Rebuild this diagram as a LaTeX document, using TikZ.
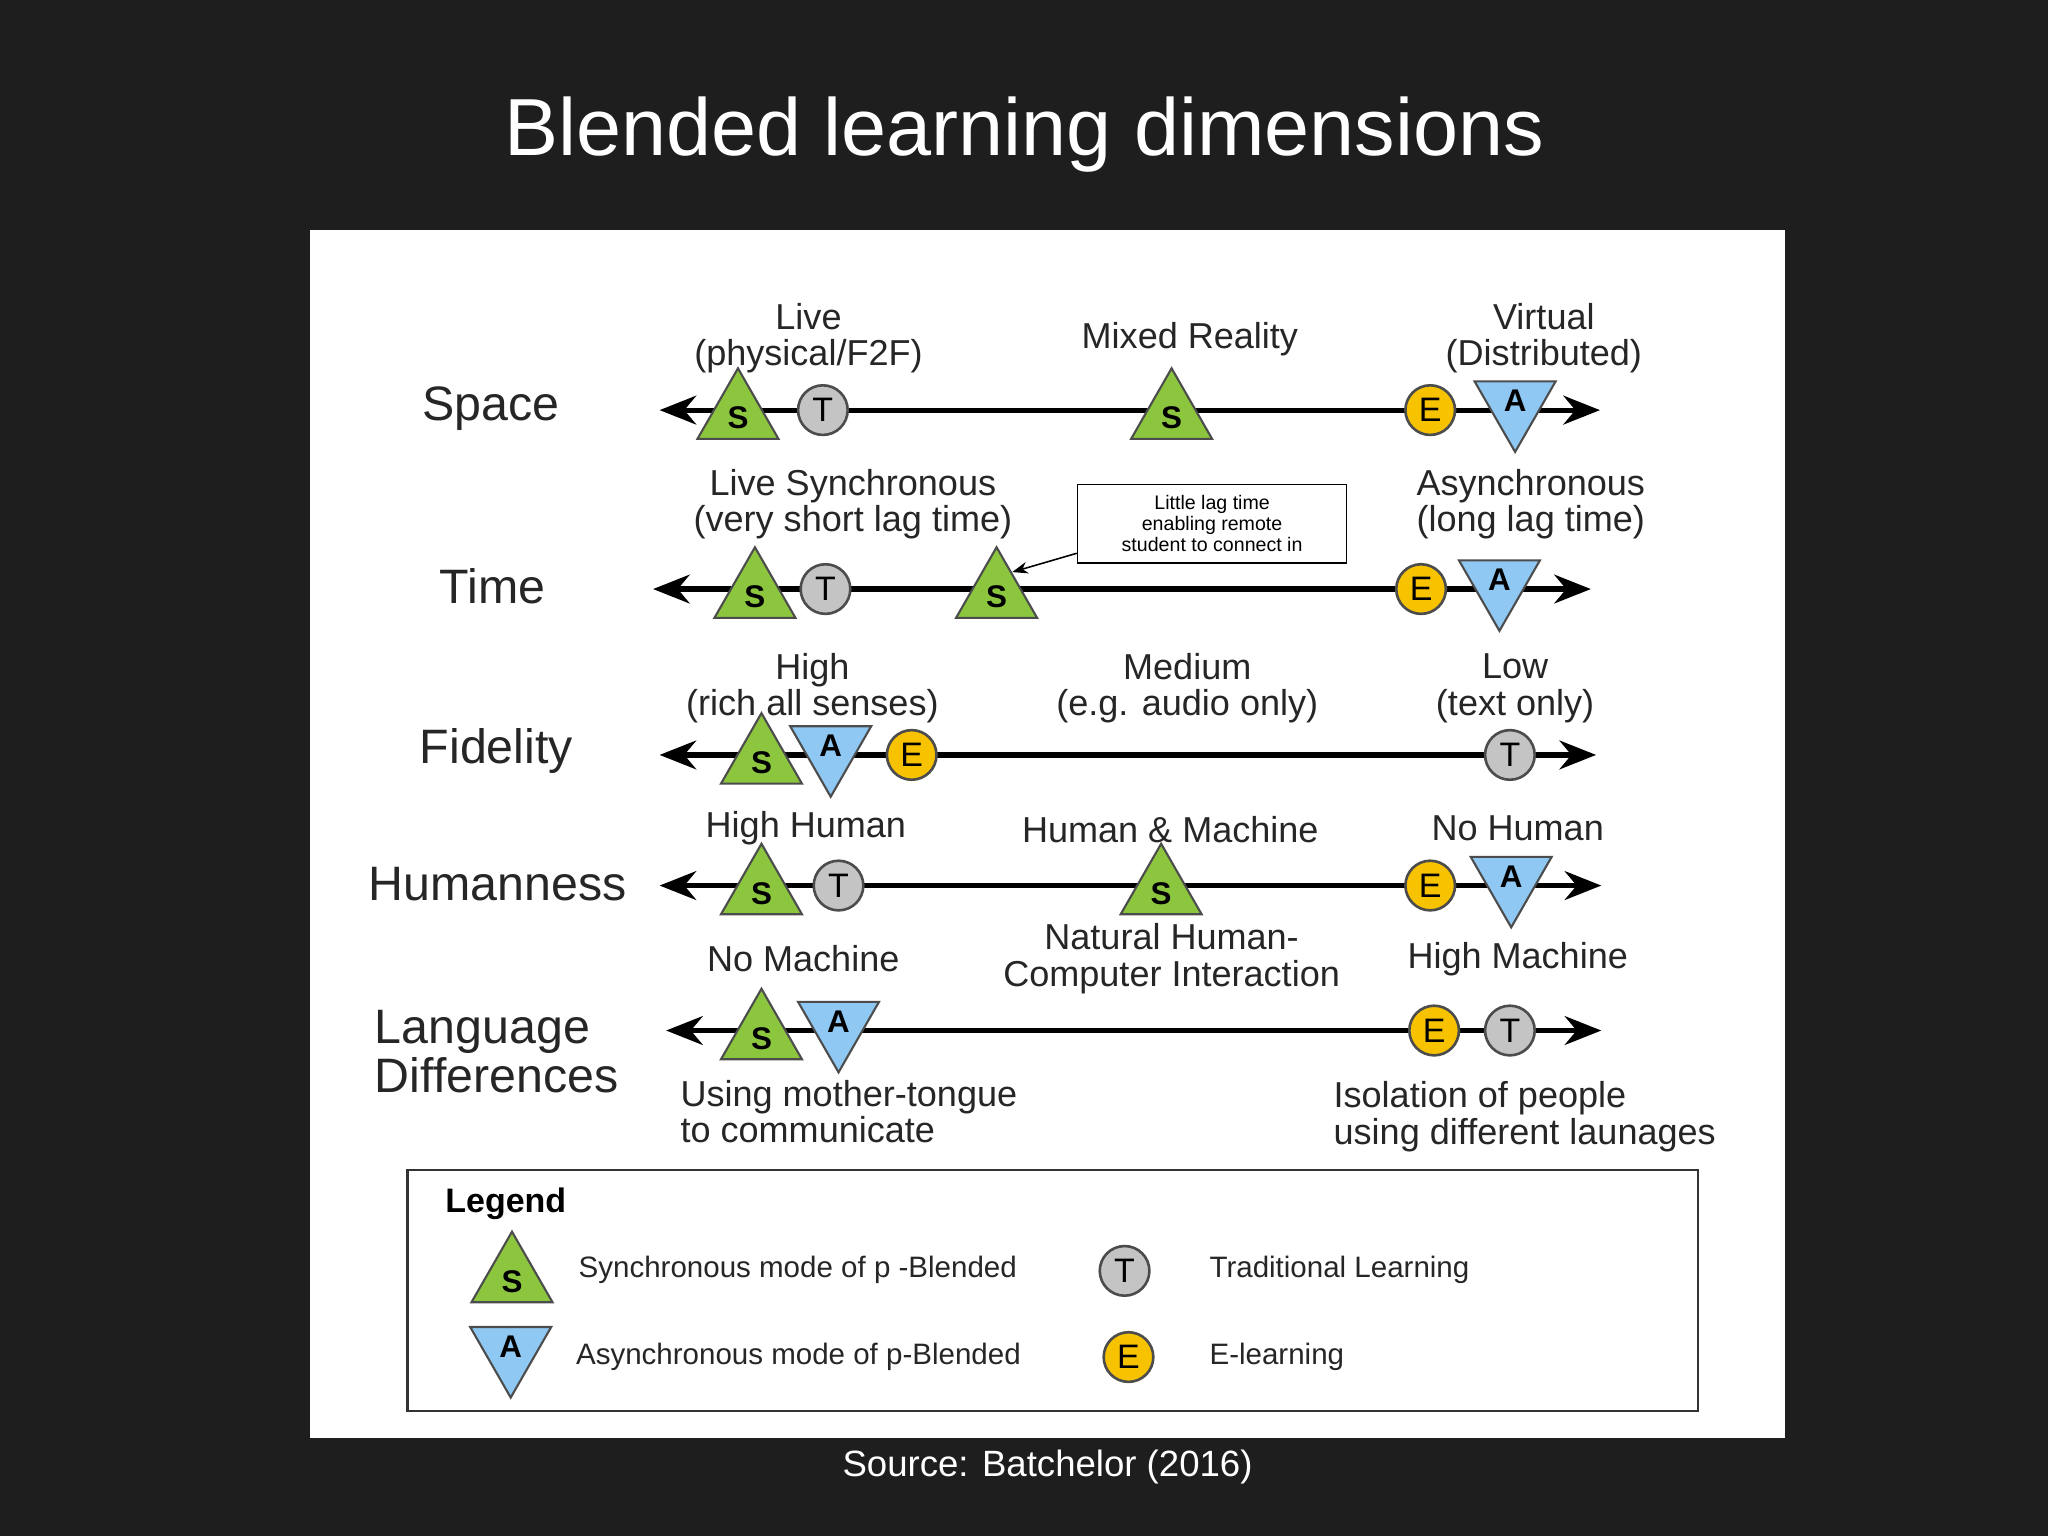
\documentclass[tikz,border=0pt]{standalone}
\usepackage{fontspec}
\setmainfont{Liberation Sans}
\usetikzlibrary{arrows.meta}
\definecolor{sgreen}{HTML}{8CC63F}
\definecolor{ablue}{HTML}{8FC8F2}
\definecolor{tgray}{HTML}{C4C4C4}
\definecolor{eyel}{HTML}{F7C200}
\definecolor{bgdark}{HTML}{1E1E1E}
\tikzset{
 axis/.style={line width=2pt,{Stealth[length=14pt,width=11pt]}-{Stealth[length=14pt,width=11pt]}},
 lab/.style={font=\fontsize{13.8}{14}\selectfont,align=center,text=black!85},
 rowname/.style={font=\fontsize{18.5}{19}\selectfont,text=black!85},
 leg/.style={font=\fontsize{11.3}{12}\selectfont,anchor=west,text=black!85},
 mk/.style={font=\bfseries\fontsize{12}{12}\selectfont},
 sS/.pic={\filldraw[fill=sgreen,draw=black!70,line width=0.8pt] (-31,22)--(31,22)--(0,-32)--cycle; \node[mk] at (0,6) {S};},
 sA/.pic={\filldraw[fill=ablue,draw=black!70,line width=0.8pt] (-31,-22)--(31,-22)--(0,32)--cycle; \node[mk] at (0,-7) {A};},
 sT/.pic={\filldraw[fill=tgray,draw=black!70,line width=1pt] (0,0) circle (19); \node[font=\fontsize{13}{13}\selectfont] at (0,0) {T};},
 sE/.pic={\filldraw[fill=eyel,draw=black!70,line width=1pt] (0,0) circle (19); \node[font=\fontsize{13}{13}\selectfont] at (0,0) {E};},
}
\begin{document}
\begin{tikzpicture}[x=0.5pt,y=-0.5pt]
\fill[bgdark] (0,0) rectangle (1568,1176);
\useasboundingbox (0,0) rectangle (1568,1176);
\node[text=white,font=\fontsize{31}{34}\selectfont] (title) at (784,103) {Blended learning dimensions};
\fill[white] (237,176) rectangle (1367,1101);
\node[text=white,font=\fontsize{14}{16}\selectfont] (src) at (802,1123) {Source: Batchelor (2016)};
% Space
\coordinate (s1) at (505,314); \coordinate (s2) at (1225,314);
\draw[axis] (s1)--(s2);
\node[rowname] (nspace) at (376,313) {Space};
\pic at (565,314) {sS}; \pic at (630,314) {sT}; \pic at (897,314) {sS}; \pic at (1095,314) {sE}; \pic at (1160,314) {sA};
\node[lab] (l1) at (619,259) {Live\\(physical/F2F)};
\node[lab] (l2) at (911,260) {Mixed Reality};
\node[lab] (l3) at (1182,259) {Virtual\\(Distributed)};
% Time
\coordinate (t1) at (500,451); \coordinate (t2) at (1218,451);
\draw[axis] (t1)--(t2);
\node[rowname] (ntime) at (377,449) {Time};
\pic at (578,451) {sS}; \pic at (632,451) {sT}; \pic at (763,451) {sS}; \pic at (1088,451) {sE}; \pic at (1148,451) {sA};
\node[lab] (l4) at (653,386) {Live Synchronous\\(very short lag time)};
\node[lab] (l5) at (1172,386) {Asynchronous\\(long lag time)};
\node[draw=black,line width=0.6pt,font=\fontsize{7.5}{8}\selectfont,align=center,minimum width=103pt,minimum height=30pt] (box) at (928,401) {Little lag time\\enabling remote\\student to connect in};
\coordinate (tS) at (775,438);
\draw[-{Stealth[length=6pt]},line width=0.6pt] (box.south west)++(0,-8) -- (tS);
% Fidelity
\coordinate (f1) at (505,578); \coordinate (f2) at (1222,578);
\draw[axis] (f1)--(f2);
\node[rowname] (nfid) at (380,575) {Fidelity};
\pic at (583,578) {sS}; \pic at (636,578) {sA}; \pic at (698,578) {sE}; \pic at (1156,578) {sT};
\node[lab] (l6) at (622,527) {High\\(rich all senses)};
\node[lab] (l7) at (909,527) {Medium\\(e.g. audio only)};
\node[lab] (l8) at (1160,527) {Low\\(text only)};
% Humanness
\coordinate (h1) at (505,678); \coordinate (h2) at (1226,678);
\draw[axis] (h1)--(h2);
\node[rowname] (nhum) at (381,677) {Humanness};
\pic at (583,678) {sS}; \pic at (642,678) {sT}; \pic at (889,678) {sS}; \pic at (1095,678) {sE}; \pic at (1157,678) {sA};
\node[lab] (l9) at (617,634) {High Human};
\node[lab] (l10) at (896,635) {Human \& Machine};
\node[lab] (l11) at (1162,634) {No Human};
% Language
\coordinate (g1) at (510,789); \coordinate (g2) at (1226,789);
\draw[axis] (g1)--(g2);
\node[rowname,align=left,anchor=west] (nlang) at (280,805) {Language\\Differences};
\pic at (583,789) {sS}; \pic at (642,789) {sA}; \pic at (1098,789) {sE}; \pic at (1156,789) {sT};
\node[lab] (l12) at (615,734) {No Machine};
\node[lab] (l13) at (897,734) {Natural Human-\\Computer Interaction};
\node[lab] (l14) at (1162,734) {High Machine};
\node[lab,align=left,anchor=west] (l15) at (514,851) {Using mother-tongue\\to communicate};
\node[lab,align=left,anchor=west] (l16) at (1014,855) {Isolation of people\\using different launages};
% Legend
\draw[line width=0.8pt,black!80] (312,896) rectangle (1300,1080);
\node[font=\bfseries\fontsize{13}{14}\selectfont,anchor=west] (lg) at (334,922) {Legend};
\pic at (392,975) {sS}; \node[leg] (lgS) at (436,972) {Synchronous mode of p -Blended};
\pic at (391,1038) {sA}; \node[leg] (lgA) at (434,1039) {Asynchronous mode of p-Blended};
\pic at (861,973) {sT}; \node[leg] (lgT) at (919,972) {Traditional Learning};
\pic at (864,1039) {sE}; \node[leg] (lgE) at (919,1039) {E-learning};
\end{tikzpicture}
\end{document}
